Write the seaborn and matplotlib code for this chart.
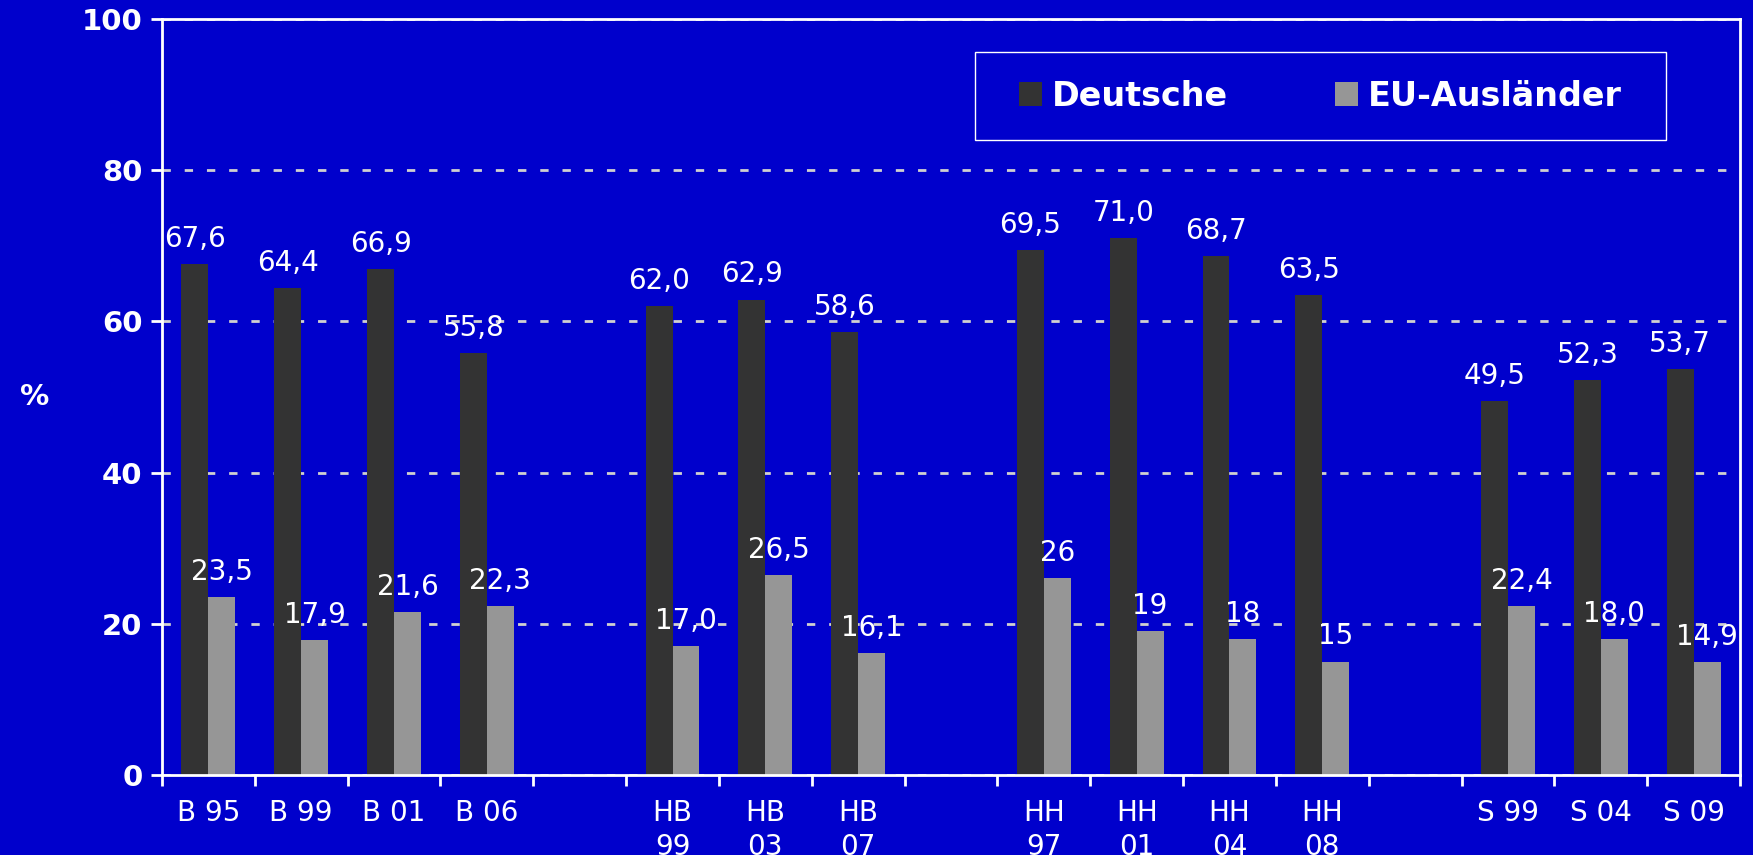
import numpy as np
import pandas as pd
import matplotlib
matplotlib.use("Agg")
import matplotlib.pyplot as plt
from matplotlib.patches import Rectangle
import seaborn as sns

# slots incl. empty gaps between the Länder
slots = ["B 95", "B 99", "B 01", "B 06", " ",
         "HB\n99", "HB\n03", "HB\n07", "  ",
         "HH\n97", "HH\n01", "HH\n04", "HH\n08", "   ",
         "S 99", "S 04", "S 09"]
wahlen = ["B 95", "B 99", "B 01", "B 06",
          "HB\n99", "HB\n03", "HB\n07",
          "HH\n97", "HH\n01", "HH\n04", "HH\n08",
          "S 99", "S 04", "S 09"]
deutsche = [67.6, 64.4, 66.9, 55.8, 62.0, 62.9, 58.6,
            69.5, 71.0, 68.7, 63.5, 49.5, 52.3, 53.7]
eu_auslaender = [23.5, 17.9, 21.6, 22.3, 17.0, 26.5, 16.1,
                 26, 19, 18, 15, 22.4, 18.0, 14.9]
deutsche_txt = ["67,6", "64,4", "66,9", "55,8", "62,0", "62,9", "58,6",
                "69,5", "71,0", "68,7", "63,5", "49,5", "52,3", "53,7"]
eu_txt = ["23,5", "17,9", "21,6", "22,3", "17,0", "26,5", "16,1",
          "26", "19", "18", "15", "22,4", "18,0", "14,9"]
gruppen = ["Deutsche", "EU-Ausländer"]

df = pd.DataFrame({
    "wahl": wahlen * 2,
    "wert": deutsche + eu_auslaender,
    "gruppe": [gruppen[0]] * len(wahlen) + [gruppen[1]] * len(wahlen),
})

blau = "#0000CC"
plt.rcParams["font.family"] = ["DejaVu Sans"]

fig = plt.figure(figsize=(17.53, 8.55), dpi=100, facecolor=blau)
ax = fig.add_axes([0.0924, 0.0936, 0.9002, 0.884])
ax.set_facecolor(blau)

sns.barplot(data=df, x="wahl", y="wert", hue="gruppe", order=slots,
            hue_order=gruppen, palette=["#333333", "#969696"],
            width=0.58, gap=0, saturation=1, errorbar=None, ax=ax)

for cont, txt in zip(ax.containers, [deutsche_txt, eu_txt]):
    ax.bar_label(cont, labels=txt, padding=8, color="white", fontsize=20)

ax.set_ylim(0, 100)
ax.set_xlim(-0.5, len(slots) - 0.5)
ax.set_yticks(range(0, 101, 20))
ax.yaxis.grid(True, color="#D0D0D0", linestyle=(0, (3, 5)), linewidth=2)
ax.set_axisbelow(True)

for sp in ax.spines.values():
    sp.set_color("white")
    sp.set_linewidth(2)

ax.tick_params(axis="y", colors="white", length=8, width=2, labelsize=21, pad=6)
for lbl in ax.get_yticklabels():
    lbl.set_fontweight("bold")
ax.set_xticks(np.arange(-0.5, len(slots), 1), minor=True)
ax.tick_params(axis="x", which="minor", colors="white", length=8, width=2)
ax.tick_params(axis="x", which="major", colors="white", length=0, labelsize=20, pad=17)
for lbl in ax.get_xticklabels():
    lbl.set_linespacing(1.3)
    lbl.set_verticalalignment("top")

ax.set_xlabel("")
ax.set_ylabel("%", color="white", fontsize=21, fontweight="bold",
              rotation=0, labelpad=0, va="center")
ax.yaxis.set_label_coords(-0.081, 0.5)

# legend box drawn separately so the entries stay centred in it
ax.add_patch(Rectangle((0.515, 0.84), 0.438, 0.116, transform=ax.transAxes,
                       facecolor=blau, edgecolor="white", linewidth=1, zorder=4))
leg = ax.legend(loc="center", bbox_to_anchor=(0.734, 0.898), ncol=2,
                frameon=False, handlelength=0.7, handleheight=0.7,
                handletextpad=0.3, columnspacing=3.2, borderpad=0,
                prop={"size": 24, "weight": "bold"})
leg.set_zorder(5)
for t in leg.get_texts():
    t.set_color("white")

fig.savefig("out.png", dpi=100, facecolor=blau)
